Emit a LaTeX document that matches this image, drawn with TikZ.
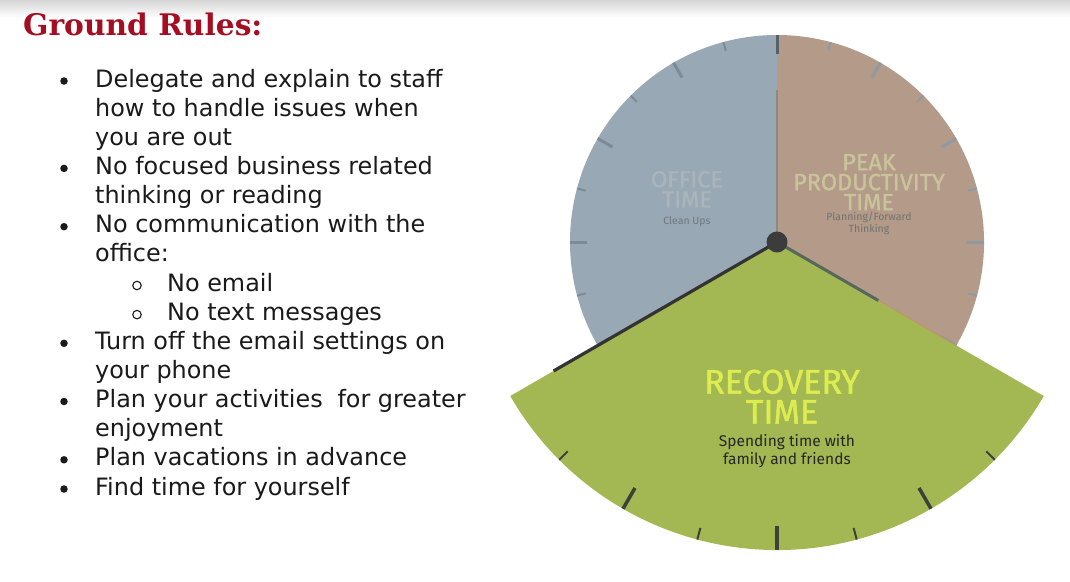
\documentclass[tikz,border=0pt]{standalone}
\usepackage{fontspec}
\setmainfont{DejaVu Sans}
\newfontfamily\titlefont{DejaVu Serif}
\newfontfamily\clockfont{Fira Sans}
\newfontfamily\clockhead{Fira Sans}[FakeBold=1.3]
\definecolor{titlered}{HTML}{A50D22}
\definecolor{bodyblack}{HTML}{1A1A1A}
\definecolor{blueg}{HTML}{98A8B4}
\definecolor{browng}{HTML}{B39A89}
\definecolor{greeng}{HTML}{A3B852}
\definecolor{tickblue}{HTML}{7E8B95}
\definecolor{tickbrown}{HTML}{8E9AA3}
\definecolor{tickdark}{HTML}{56616B}
\definecolor{tickgreen}{HTML}{3C423A}
\definecolor{officetxt}{HTML}{AAB5BA}
\definecolor{peaktxt}{HTML}{C9C49A}
\definecolor{recovtxt}{HTML}{DDEC50}
\definecolor{subgray}{HTML}{6E7880}
\definecolor{subbrown}{HTML}{72726E}
\definecolor{handdark}{HTML}{333333}
\definecolor{handgreen}{HTML}{56685A}
\definecolor{handsec}{HTML}{8A8A82}
\definecolor{edgeorange}{HTML}{C49060}
\definecolor{hubcol}{HTML}{3C3C3C}
\newcommand\subfnt{\clockfont\fontsize{10.5}{11}\selectfont}
\tikzset{
  bodytext/.style={anchor=base west, inner sep=0pt, text=bodyblack, font=\fontsize{23.9}{28}\selectfont},
  bulletdot/.style={circle, fill=bodyblack, inner sep=0pt, minimum size=7.5pt},
  subdot/.style={circle, draw=bodyblack, line width=1.1pt, inner sep=0pt, minimum size=8.5pt},
  bigtick/.style={line width=3pt},
  smalltick/.style={line width=2pt},
  headblock/.style={anchor=north, inner sep=0pt, align=center, font=\clockhead\fontsize{23.5}{20}\selectfont},
}
\begin{document}
\begin{tikzpicture}[x=1pt,y=1pt]
\useasboundingbox (0,0) rectangle (1070,-581);
\fill[white] (0,0) rectangle (1070,-581);
\shade[top color=black!16, bottom color=white] (0,0) rectangle (1070,-18);

% title
\node[anchor=base west, inner sep=0pt, text=titlered,
      font=\titlefont\bfseries\fontsize{29.7}{30}\selectfont] (title) at (23,-35) {Ground Rules:};

% body lines
\def\bx{95}
\def\sx{167}
\node[bodytext] (l1)  at (\bx,-87.0)  {Delegate and explain to staff};
\node[bodytext] (l2)  at (\bx,-116.1) {how to handle issues when};
\node[bodytext] (l3)  at (\bx,-145.3) {you are out};
\node[bodytext] (l4)  at (\bx,-174.4) {No focused business related};
\node[bodytext] (l5)  at (\bx,-203.6) {thinking or reading};
\node[bodytext] (l6)  at (\bx,-232.7) {No communication with the};
\node[bodytext] (l7)  at (\bx,-261.8) {office:};
\node[bodytext] (l8)  at (\sx,-291.0) {No email};
\node[bodytext] (l9)  at (\sx,-320.1) {No text messages};
\node[bodytext] (l10) at (\bx,-349.3) {Turn off the email settings on};
\node[bodytext] (l11) at (\bx,-378.4) {your phone};
\node[bodytext] (l12) at (\bx,-407.5) {Plan your activities\hspace{0.3em} for greater};
\node[bodytext] (l13) at (\bx,-436.7) {enjoyment};
\node[bodytext] (l14) at (\bx,-465.8) {Plan vacations in advance};
\node[bodytext] (l15) at (\bx,-495.0) {Find time for yourself};

\node[bulletdot] (b1) at (64,-81.0) {};
\node[bulletdot] (b2) at (64,-168.4) {};
\node[bulletdot] (b3) at (64,-226.7) {};
\node[bulletdot] (b4) at (64,-343.3) {};
\node[bulletdot] (b5) at (64,-401.5) {};
\node[bulletdot] (b6) at (64,-459.8) {};
\node[bulletdot] (b7) at (64,-489.0) {};
\node[subdot] (s1) at (137,-285.5) {};
\node[subdot] (s2) at (137,-314.6) {};

% clock
\begin{scope}[shift={(777,-242)}]
  \fill[blueg] (0,0) -- (90:207) arc[start angle=90, end angle=210, radius=207] -- cycle;
  \fill[browng] (0,0) -- (-30:207) arc[start angle=-30, end angle=90, radius=207] -- cycle;
  % ticks on the small circle
  \foreach \a in {120,150,180,210}
    \draw[bigtick, tickblue] (\a:190) -- (\a:207);
  \foreach \a in {105,135,165,195}
    \draw[smalltick, tickblue] (\a:198) -- (\a:207);
  \foreach \a in {60,30,0,-30}
    \draw[bigtick, tickbrown] (\a:190) -- (\a:207);
  \foreach \a in {75,45,15,-15}
    \draw[smalltick, tickbrown] (\a:198) -- (\a:207);
  \draw[bigtick, tickdark] (90:188) -- (90:207);
  % second hand
  \draw[line width=1.6pt, handsec] (0,0) -- (90:152);
  % recovery sector
  \fill[greeng] (0,0) -- (-150:308) arc[start angle=-150, end angle=-30, radius=308] -- cycle;
  \foreach \a in {-60,-90,-120}
    \draw[line width=3.5pt, tickgreen] (\a:284) -- (\a:308);
  \foreach \a in {-45,-75,-105,-135}
    \draw[line width=2pt, tickgreen] (\a:296) -- (\a:308);
  % edge and hands
  \draw[line width=0.8pt, edgeorange] (-30:117) -- (-30:207);
  \draw[line width=3pt, handgreen] (0,0) -- (-30:117);
  \draw[line width=3.2pt, handdark] (0,0) -- (-150:258);
  \node[circle, fill=hubcol, minimum size=21pt, inner sep=0pt] (hub) at (0,0) {};
\end{scope}

% clock labels
\node[headblock, text=officetxt] (office) at (687,-170.8)
  {OFFICE\\TIME\\[-2.5pt]{\subfnt\color{subgray}Clean Ups}};
\node[headblock, text=peaktxt] (peak) at (869,-153.8)
  {PEAK\\PRODUCTIVITY\\TIME\\[-9.5pt]{\subfnt\color{subbrown}Planning/Forward}\\[-8.5pt]{\subfnt\color{subbrown}Thinking}};
\node[anchor=north, inner sep=0pt, align=center, text=recovtxt,
      font=\clockhead\fontsize{34}{30}\selectfont] (recovery) at (782,-369.5) {RECOVERY\\TIME};
\node[anchor=north, inner sep=0pt, align=center, text=black!85,
      font=\clockfont\fontsize{15.5}{18}\selectfont] (recsub) at (787,-434.5) {Spending time with\\family and friends};
\end{tikzpicture}
\end{document}
